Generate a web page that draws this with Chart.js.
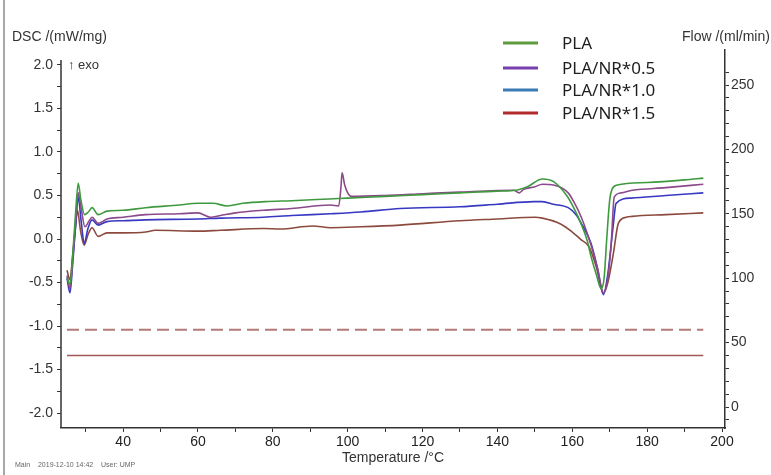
<!DOCTYPE html>
<html>
<head>
<meta charset="utf-8">
<script src="https://cdn.jsdelivr.net/npm/chart.js@4.4.1/dist/chart.umd.min.js"></script>
<style>
    html, body { margin: 0; padding: 0; background: #fff; }
</style>
</head>
<body>
<canvas id="grafico" width="771" height="475"></canvas>
<script>

const seriesNames = ['PLA', 'PLA/NR*0.5', 'PLA/NR*1.0', 'PLA/NR*1.5']
const curveColors = ['#3f9a3f', '#8b4a8b', '#3838c2', '#8c4a3e']
const legendColors = ['#5f9b3d', '#7a3fae', '#3a7bb6', '#b22a2a']

// temperature (°C) / DSC (mW/mg)
const plaT = [25.0, 25.8, 26.5, 27.3, 28.0, 28.7, 29.7, 30.7, 31.7, 33.3, 35.7, 40, 46, 55, 60, 64, 67.8, 72, 78, 85, 95, 100, 110, 120, 130, 140, 145, 148, 152, 155, 158.5, 160.5, 162.3, 164, 165, 166.5, 167.7, 168.5, 169.2, 170, 170.6, 172, 180, 190, 195]
const plaDsc = [-0.45, -0.52, -0.2, 0.3, 0.64, 0.45, 0.28, 0.31, 0.36, 0.28, 0.32, 0.33, 0.36, 0.39, 0.41, 0.41, 0.38, 0.41, 0.43, 0.44, 0.46, 0.47, 0.49, 0.51, 0.53, 0.55, 0.56, 0.60, 0.69, 0.66, 0.50, 0.35, 0.18, -0.02, -0.2, -0.42, -0.57, -0.45, 0.0, 0.45, 0.57, 0.62, 0.65, 0.68, 0.70]

const nr05T = [25.0, 25.8, 26.5, 27.3, 28.0, 28.8, 29.8, 30.8, 31.7, 33.3, 35.7, 40, 46, 55, 60, 63.3, 66, 70, 77.5, 85, 95.4, 97.6, 98.2, 98.5, 99.2, 100, 101, 110, 120, 130, 144.4, 145.8, 147, 150, 152, 155, 158.9, 160.5, 162.4, 165, 166.8, 168.3, 169.5, 170.4, 171.2, 173, 176, 185, 195]
const nr05Dsc = [-0.42, -0.57, -0.25, 0.2, 0.53, 0.35, 0.14, 0.2, 0.25, 0.18, 0.23, 0.25, 0.28, 0.29, 0.30, 0.25, 0.27, 0.30, 0.33, 0.35, 0.39, 0.38, 0.6, 0.76, 0.62, 0.53, 0.49, 0.50, 0.52, 0.54, 0.56, 0.53, 0.57, 0.60, 0.63, 0.62, 0.53, 0.42, 0.25, -0.07, -0.35, -0.62, -0.45, -0.05, 0.48, 0.53, 0.56, 0.59, 0.63]

const nr10T = [25.0, 25.8, 26.5, 27.3, 28.0, 28.8, 29.6, 30.6, 31.7, 33.3, 35.7, 40, 46, 60, 66, 77.5, 85, 95.4, 103.5, 114, 130, 140, 149.8, 152, 155, 158.9, 161, 162.4, 165, 166.8, 168.3, 169.5, 170.9, 171.7, 175.7, 185, 195]
const nr10Dsc = [-0.45, -0.62, -0.3, 0.15, 0.48, 0.2, -0.05, 0.12, 0.22, 0.16, 0.2, 0.21, 0.22, 0.23, 0.24, 0.25, 0.27, 0.29, 0.31, 0.35, 0.37, 0.40, 0.43, 0.43, 0.40, 0.36, 0.28, 0.18, -0.05, -0.35, -0.64, -0.4, 0.14, 0.41, 0.47, 0.50, 0.53]

const nr15T = [25.0, 25.8, 26.5, 27.3, 27.8, 28.6, 29.6, 30.6, 31.7, 33.3, 35.7, 40, 46, 48.6, 60, 66, 77.5, 82, 90.6, 95.4, 103.5, 114, 130, 140, 150, 152, 157, 160, 162.4, 164.5, 166.4, 168.3, 169.5, 171, 172.3, 174.4, 176, 185, 195]
const nr15Dsc = [-0.36, -0.47, -0.2, 0.15, 0.33, 0.1, -0.07, 0.05, 0.13, 0.03, 0.07, 0.07, 0.08, 0.1, 0.09, 0.10, 0.12, 0.115, 0.15, 0.13, 0.14, 0.16, 0.21, 0.23, 0.25, 0.24, 0.17, 0.08, -0.01, -0.09, -0.32, -0.62, -0.5, -0.16, 0.18, 0.25, 0.26, 0.28, 0.30]

// purge gas flow (ml/min)
const flowT = [25, 195]
const flowDashed = [60, 60]
const flowSolid = [40, 40]

// tick labels
const tempTicks = [40, 60, 80, 100, 120, 140, 160, 180, 200]
const dscTicks = [-2.0, -1.5, -1.0, -0.5, 0.0, 0.5, 1.0, 1.5, 2.0]
const flowTicks = [0, 50, 100, 150, 200, 250]

function pts(xs, ys) {
    return xs.map(function (x, i) {
        return { x: x, y: ys[i] }
    })
}

let curves = [[plaT, plaDsc], [nr05T, nr05Dsc], [nr10T, nr10Dsc], [nr15T, nr15Dsc]]

let datasets = curves.map(function (c, i) {
    return {
        label: seriesNames[i],
        data: pts(c[0], c[1]),
        borderColor: curveColors[i],
        borderWidth: 1.6,
        pointRadius: 0,
        cubicInterpolationMode: 'monotone',
        yAxisID: 'y'
    }
})

datasets.push({
    label: 'flow 1',
    data: pts(flowT, flowDashed),
    borderColor: '#b27a7a',
    borderWidth: 1.8,
    borderDash: [12, 6],
    pointRadius: 0,
    yAxisID: 'y2'
})
datasets.push({
    label: 'flow 2',
    data: pts(flowT, flowSolid),
    borderColor: '#a05858',
    borderWidth: 1.5,
    pointRadius: 0,
    yAxisID: 'y2'
})

const tickFont = { family: '"Liberation Sans", Arial, sans-serif', size: 14 }

// minor ticks between labelled ones
function withMinor(major, step) {
    let out = []
    for (let v = major[0] - step; v <= major[major.length - 1] + step + 1e-9; v += step) {
        out.push({ value: Math.round(v * 1000) / 1000 })
    }
    return out
}

const textPlugin = {
    id: 'texts',
    afterDraw(chart) {
        const ctx = chart.ctx
        const area = chart.chartArea
        ctx.save()

        // frame line of the screenshot
        ctx.strokeStyle = '#a8a8a8'
        ctx.lineWidth = 2
        ctx.beginPath()
        ctx.moveTo(4, 0)
        ctx.lineTo(4, 475)
        ctx.stroke()

        // left axis line starts a bit below the top
        ctx.strokeStyle = '#333'
        ctx.lineWidth = 1.5
        ctx.beginPath()
        ctx.moveTo(area.left, 60)
        ctx.lineTo(area.left, area.bottom)
        ctx.stroke()

        ctx.fillStyle = '#333'
        ctx.textBaseline = 'middle'
        ctx.font = '14px "Liberation Sans", Arial, sans-serif'
        ctx.textAlign = 'left'
        ctx.fillText('DSC /(mW/mg)', 12, 37)
        ctx.fillText('Flow /(ml/min)', 682, 37)
        ctx.font = '13px "Liberation Sans", Arial, sans-serif'
        ctx.fillText('\u2191 exo', 68, 65)

        ctx.font = '14px "Liberation Sans", Arial, sans-serif'
        ctx.textAlign = 'center'
        ctx.fillText('Temperature /\u00b0C', (area.left + area.right) / 2, 458)

        ctx.textAlign = 'left'
        ctx.fillStyle = '#666'
        ctx.font = '7px "Liberation Sans", Arial, sans-serif'
        ctx.fillText('Main    2019-12-10 14:42    User: UMP', 15, 465)

        // legend
        const rows = [43, 68, 90, 113]
        seriesNames.forEach(function (name, i) {
            ctx.strokeStyle = legendColors[i]
            ctx.lineWidth = 3
            ctx.beginPath()
            ctx.moveTo(503, rows[i])
            ctx.lineTo(538, rows[i])
            ctx.stroke()
            ctx.fillStyle = '#1e1e1e'
            ctx.font = '17px "Noto Sans", sans-serif'
            ctx.fillText(name, 562, rows[i] + 1)
        })
        ctx.restore()
    }
}

let canvas = document.getElementById('grafico').getContext('2d')
var chart = new Chart(canvas, {
    type: 'line',
    data: { datasets: datasets },
    plugins: [textPlugin],
    options: {
        responsive: false,
        animation: false,
        layout: { padding: { top: 50, left: 0, right: 0, bottom: 0 } },
        plugins: { legend: { display: false }, tooltip: { enabled: false } },
        scales: {
            x: {
                type: 'linear',
                min: 23.4,
                max: 200.8,
                afterFit: function (s) { s.height = 47 },
                afterBuildTicks: function (s) { s.ticks = withMinor(tempTicks, 10).filter(t => t.value > 23.4 && t.value <= 200.8) },
                grid: { drawOnChartArea: false, tickLength: 4, color: '#333' },
                border: { color: '#333', width: 1.5 },
                ticks: {
                    font: tickFont,
                    color: '#222',
                    padding: 2,
                    maxRotation: 0,
                    autoSkip: false,
                    callback: function (v) { return tempTicks.includes(v) ? String(v) : '' }
                }
            },
            y: {
                position: 'left',
                min: -2.172,
                max: 2.172,
                afterFit: function (s) { s.width = 61 },
                afterBuildTicks: function (s) { s.ticks = withMinor(dscTicks, 0.25).filter(t => t.value > -2.172 && t.value < 2.1) },
                grid: { drawOnChartArea: false, tickLength: 4, color: '#333' },
                border: { display: false },
                ticks: {
                    font: tickFont,
                    color: '#333',
                    padding: 4,
                    autoSkip: false,
                    callback: function (v) { return dscTicks.includes(v) ? v.toFixed(1) : '' }
                }
            },
            y2: {
                position: 'right',
                min: -16.3,
                max: 277.2,
                afterFit: function (s) { s.width = 46 },
                afterBuildTicks: function (s) { s.ticks = withMinor(flowTicks, 10).filter(t => t.value > -16.3 && t.value < 277.2) },
                grid: { drawOnChartArea: false, tickLength: 4, color: '#333' },
                border: { color: '#333', width: 1.5 },
                ticks: {
                    font: tickFont,
                    color: '#333',
                    padding: 2,
                    autoSkip: false,
                    callback: function (v) { return flowTicks.includes(v) ? String(v) : '' }
                }
            }
        }
    }
});

</script>
</body>
</html>
